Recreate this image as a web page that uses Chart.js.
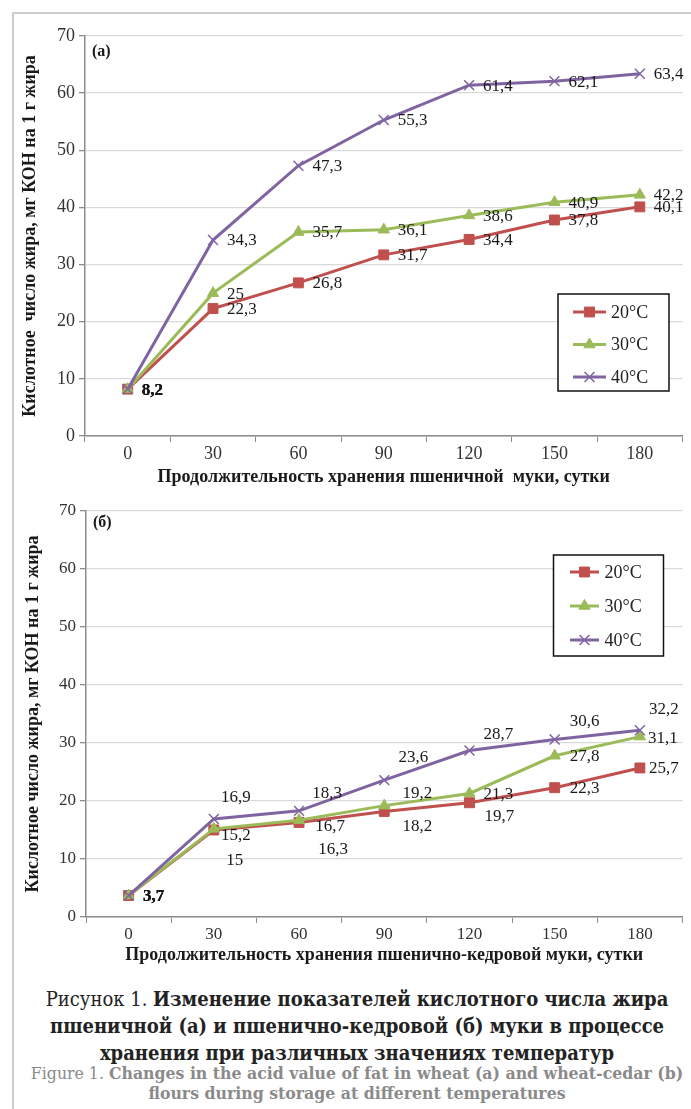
<!DOCTYPE html>
<html>
<head>
<meta charset="utf-8">
<script src="https://cdn.jsdelivr.net/npm/chart.js@4.4.0/dist/chart.umd.min.js"></script>
<style>
  body { margin: 0; background: #fff; width: 691px; height: 1109px; overflow: hidden; position: relative; }
  #frame { position: absolute; left: 12px; top: 12px; right: 0; bottom: 0;
           border-top: 2px solid #cdcdcd; border-left: 2px solid #cdcdcd; }
  .box { position: absolute; left: 0; width: 691px; }
  #boxA { top: 0; height: 490px; }
  #boxB { top: 490px; height: 485px; }
  #caption { position: absolute; left: 20px; width: 674px; top: 986px; text-align: center;
             font-family: "DejaVu Serif Condensed", "Liberation Serif", serif; }
  .ru { font-size: 20px; line-height: 27px; color: #222; }
  .en { font-size: 17.5px; line-height: 20px; color: #8a8a8a; margin-top: -4px; }
</style>
</head>
<body>
<div id="frame"></div>
<div class="box" id="boxA"><canvas id="chartA"></canvas></div>
<div class="box" id="boxB"><canvas id="chartB"></canvas></div>
<div id="caption">
  <div class="ru">Рисунок 1. <b>Изменение показателей кислотного числа жира</b><br><b>пшеничной (а) и пшенично-кедровой (б) муки в процессе</b><br><b>хранения при различных значениях температур</b></div>
  <div class="en">Figure 1. <b>Changes in the acid value of fat in wheat (a) and wheat-cedar (b)</b><br><b>flours during storage at different temperatures</b></div>
</div>
<script>
// storage days and temperatures
const days = ['0', '30', '60', '90', '120', '150', '180'];
const seriesNames = ['20°C', '30°C', '40°C'];
const yTicks = [0, 10, 20, 30, 40, 50, 60, 70];

// (a) wheat flour
const wheat20 = [8.2, 22.3, 26.8, 31.7, 34.4, 37.8, 40.1];
const wheat30 = [8.2, 25, 35.7, 36.1, 38.6, 40.9, 42.2];
const wheat40 = [8.2, 34.3, 47.3, 55.3, 61.4, 62.1, 63.4];

// (б) wheat-cedar flour
const cedar20 = [3.7, 15, 16.3, 18.2, 19.7, 22.3, 25.7];
const cedar30 = [3.7, 15.2, 16.7, 19.2, 21.3, 27.8, 31.1];
const cedar40 = [3.7, 16.9, 18.3, 23.6, 28.7, 30.6, 32.2];

const colors = ['#C0504D', '#9BBB59', '#8064A2'];
const pointStyles = ['rect', 'triangle', 'crossRot'];
const pointSizes = [7, 6.5, 7];
const serif = '"Liberation Serif", "Times New Roman", serif';

// where each value label sits relative to its point, [dx, dy]
const sameOffsets = () => days.map(() => [14, 1]);
const offsetsA = [sameOffsets(), sameOffsets(), sameOffsets()];
const offsetsB = [
  [[25, 1], [21, 31], [34, 27], [33, 15], [30, 14], [30, 1], [24, 1]],
  [[25, 1], [22, 7], [31, 6], [33, -12], [29, 1], [30, 1], [23, 2]],
  [[25, 1], [22, -21], [28, -17], [29, -23], [29, -16], [30, -18], [24, -21]]
];

const valueLabels = {
  id: 'valueLabels',
  afterDatasetsDraw(chart, args, opts) {
    const ctx = chart.ctx;
    ctx.save();
    ctx.fillStyle = '#1a1a1a';
    ctx.textAlign = opts.align;
    ctx.textBaseline = 'middle';
    chart.data.datasets.forEach((ds, i) => {
      chart.getDatasetMeta(i).data.forEach((pt, j) => {
        const off = opts.offsets[i][j];
        ctx.font = (j === 0 ? 'bold ' : '') + opts.size + 'px ' + serif;
        ctx.fillText(String(ds.data[j]).replace('.', ','), pt.x + off[0], pt.y + off[1]);
      });
    });
    ctx.restore();
  }
};

// legend in a black box inside the plot area
const boxLegend = {
  id: 'boxLegend',
  afterDraw(chart, args, opts) {
    const {ctx, chartArea} = chart;
    const x = chartArea.left + opts.x, y = chartArea.top + opts.y;
    ctx.save();
    ctx.fillStyle = '#fff';
    ctx.fillRect(x, y, opts.w, opts.h);
    ctx.strokeStyle = '#111';
    ctx.lineWidth = 1.5;
    ctx.strokeRect(x, y, opts.w, opts.h);
    chart.data.datasets.forEach((ds, i) => {
      const ry = y + opts.first + i * opts.step;
      ctx.strokeStyle = ds.borderColor;
      ctx.fillStyle = ds.borderColor;
      ctx.lineWidth = 3;
      ctx.beginPath();
      ctx.moveTo(x + opts.lineFrom, ry);
      ctx.lineTo(x + opts.lineTo, ry);
      ctx.stroke();
      ctx.lineWidth = ds.pointBorderWidth;
      Chart.helpers.drawPoint(ctx, {pointStyle: ds.pointStyle, radius: ds.pointRadius, rotation: 0, borderWidth: ds.pointBorderWidth},
        x + (opts.lineFrom + opts.lineTo) / 2, ry);
      ctx.fillStyle = '#222';
      ctx.font = opts.size + 'px ' + serif;
      ctx.textAlign = 'left';
      ctx.textBaseline = 'middle';
      ctx.fillText(ds.label, x + opts.textX, ry + 1);
    });
    ctx.restore();
  }
};

const panelLabel = {
  id: 'panelLabel',
  afterDraw(chart, args, opts) {
    const ctx = chart.ctx;
    ctx.save();
    ctx.fillStyle = '#1a1a1a';
    ctx.font = 'bold 16px ' + serif;
    ctx.textBaseline = 'middle';
    ctx.fillText(opts.text, chart.chartArea.left + opts.dx, chart.chartArea.top + opts.dy);
    ctx.restore();
  }
};

function makeChart(id, series, o) {
  return new Chart(document.getElementById(id), {
    type: 'line',
    data: {
      labels: days,
      datasets: series.map((d, i) => ({
        label: seriesNames[i],
        data: d,
        borderColor: colors[i],
        backgroundColor: colors[i],
        borderWidth: 3,
        pointStyle: pointStyles[i],
        pointRadius: pointSizes[i],
        pointBorderWidth: i === 2 ? 1.5 : 1,
        order: 2 - i,
        tension: 0
      }))
    },
    options: {
      responsive: true,
      maintainAspectRatio: false,
      animation: false,
      layout: { padding: { top: o.top, right: o.right, left: 0, bottom: 0 } },
      plugins: {
        legend: { display: false },
        tooltip: { enabled: false },
        valueLabels: { offsets: o.offsets, align: o.align, size: 17 },
        boxLegend: o.legend,
        panelLabel: { text: o.panel, dx: 7, dy: o.panelY }
      },
      scales: {
        x: {
          offset: true,
          ticks: { font: { family: serif, size: o.tickSize }, color: '#333', padding: o.xPad },
          grid: { offset: true, drawOnChartArea: false, tickLength: 6, color: '#8c8c8c', tickColor: '#8c8c8c' },
          border: { color: '#8c8c8c', width: 1.5 },
          title: { display: true, text: o.xTitle, color: '#1a1a1a',
                   font: { family: serif, size: 18, weight: 'bold' }, padding: { bottom: o.xTitlePad } },
          afterFit(scale) { scale.height = o.xHeight; }
        },
        y: {
          min: 0,
          max: 70,
          afterBuildTicks(scale) { scale.ticks = yTicks.map(v => ({ value: v })); },
          ticks: { font: { family: serif, size: o.tickSize }, color: '#333', padding: 4 },
          grid: { color: '#d9d9d9', lineWidth: 1.3, tickLength: 6, tickColor: '#8c8c8c' },
          border: { color: '#8c8c8c', width: 1.5 },
          title: { display: true, text: o.yTitle, color: '#1a1a1a',
                   font: { family: serif, size: 18, weight: 'bold' }, padding: { top: o.yTitlePad } },
          afterFit(scale) { scale.width = o.yWidth; }
        }
      }
    },
    plugins: [valueLabels, boxLegend, panelLabel]
  });
}

makeChart('chartA', [wheat20, wheat30, wheat40], {
  top: 36, right: 4, yWidth: 85, xHeight: 54, tickSize: 18, xPad: 1,
  xTitle: 'Продолжительность хранения пшеничной  муки, сутки', xTitlePad: 2,
  yTitle: 'Кислотное  число жира, мг КОН на 1 г жира', yTitlePad: 20,
  offsets: offsetsA, align: 'left', panel: '(a)', panelY: 16,
  legend: { x: 473, y: 258, w: 111, h: 97, first: 18, step: 32.5, lineFrom: 15, lineTo: 48, textX: 53, size: 18 }
});

makeChart('chartB', [cedar20, cedar30, cedar40], {
  top: 21, right: 1, yWidth: 86, xHeight: 58, tickSize: 17, xPad: 1,
  xTitle: 'Продолжительность хранения пшенично-кедровой муки, сутки', xTitlePad: 9,
  yTitle: 'Кислотное число жира, мг КОН на 1 г жира', yTitlePad: 23,
  offsets: offsetsB, align: 'center', panel: '(б)', panelY: 12,
  legend: { x: 467.5, y: 44, w: 110, h: 101, first: 17, step: 34, lineFrom: 16.5, lineTo: 45.5, textX: 51, size: 18 }
});
</script>
</body>
</html>
